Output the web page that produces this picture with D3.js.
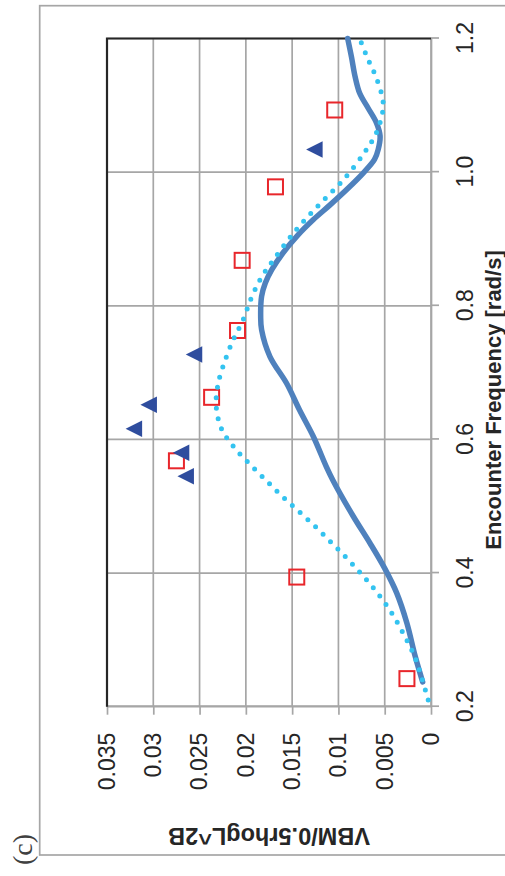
<!DOCTYPE html>
<html>
<head>
<meta charset="utf-8">
<script src="https://cdn.jsdelivr.net/npm/d3@7"></script>
<style>
  html, body { margin: 0; padding: 0; background: #fff; }
  svg { display: block; }
</style>
</head>
<body>
<script>
// Axis ticks and their labels
const freqTicks = [0.2, 0.4, 0.6, 0.8, 1.0, 1.2];
const freqTickLabels = ["0.2", "0.4", "0.6", "0.8", "1.0", "1.2"];
const vbmTicks = [0, 0.005, 0.01, 0.015, 0.02, 0.025, 0.03, 0.035];
const vbmTickLabels = ["0", "0.005", "0.01", "0.015", "0.02", "0.025", "0.03", "0.035"];

// Solid curve
const solidFreq = [0.237, 0.275, 0.325, 0.370, 0.407, 0.445, 0.485, 0.539, 0.559, 0.604, 0.644, 0.684, 0.724, 0.764, 0.784, 0.814, 0.834, 0.854, 0.879, 0.904, 0.929, 0.951, 0.974, 0.999, 1.019, 1.034, 1.054, 1.074, 1.096, 1.118, 1.143, 1.173, 1.200];
const solidVbm  = [0.0009, 0.0017, 0.0026, 0.0037, 0.0050, 0.0066, 0.0084, 0.0106, 0.0113, 0.0127, 0.0142, 0.0156, 0.0174, 0.0183, 0.0184, 0.0183, 0.0179, 0.0172, 0.0160, 0.0145, 0.0127, 0.0109, 0.0091, 0.0073, 0.0061, 0.0057, 0.0055, 0.0059, 0.0068, 0.0077, 0.0082, 0.0086, 0.0090];

// Dotted curve
const dottedFreq = [0.210, 0.243, 0.276, 0.307, 0.337, 0.365, 0.392, 0.418, 0.442, 0.467, 0.490, 0.514, 0.537, 0.562, 0.587, 0.615, 0.649, 0.683, 0.716, 0.748, 0.779, 0.812, 0.843, 0.871, 0.913, 0.951, 0.988, 1.029, 1.059, 1.092, 1.108, 1.141, 1.172, 1.200];
const dottedVbm  = [0.0003, 0.0010, 0.0018, 0.0029, 0.0041, 0.0055, 0.0071, 0.0088, 0.0105, 0.0123, 0.0141, 0.0160, 0.0177, 0.0195, 0.0212, 0.0226, 0.0232, 0.0230, 0.0223, 0.0214, 0.0203, 0.0194, 0.0183, 0.0169, 0.0146, 0.0121, 0.0095, 0.0072, 0.0059, 0.0052, 0.0052, 0.0059, 0.0069, 0.0077];

// Square markers
const squareFreq = [0.242, 0.394, 0.568, 0.663, 0.763, 0.868, 0.978, 1.093];
const squareVbm  = [0.0026, 0.0145, 0.0275, 0.0237, 0.0209, 0.0204, 0.0168, 0.0104];

// Triangle markers
const triFreq = [0.545, 0.580, 0.616, 0.652, 0.727, 1.034];
const triVbm  = [0.0265, 0.0270, 0.0321, 0.0305, 0.0256, 0.0126];

// The chart is laid out landscape (876 x 505) and turned a quarter-turn
// counter-clockwise to fit the portrait page.
const svg = d3.select("body").append("svg")
  .attr("width", 505).attr("height", 876);
const g = svg.append("g").attr("transform", "translate(0,876) rotate(-90)");

const plot = { left: 169.3, right: 837.5, top: 107, bottom: 431 };
const x = d3.scaleLinear().domain([0.2, 1.2]).range([plot.left, plot.right]);
const y = d3.scaleLinear().domain([0, 0.035]).range([plot.bottom, plot.top]);

const gridColor = "#a6a6a6";
const textColor = "#262626";
const labelFont = "'Liberation Sans', Arial, sans-serif";

// Outer chart frame
g.append("rect")
  .attr("x", 21).attr("y", 39.7)
  .attr("width", 849.3).attr("height", 480)
  .attr("fill", "none").attr("stroke", gridColor).attr("stroke-width", 1.7);

// Gridlines
g.append("g").selectAll("line").data(freqTicks).join("line")
  .attr("x1", d => x(d)).attr("x2", d => x(d))
  .attr("y1", plot.top).attr("y2", plot.bottom)
  .attr("stroke", gridColor).attr("stroke-width", 1.7);
g.append("g").selectAll("line").data(vbmTicks).join("line")
  .attr("x1", plot.left).attr("x2", plot.right)
  .attr("y1", d => y(d)).attr("y2", d => y(d))
  .attr("stroke", gridColor).attr("stroke-width", 1.7);

// Axes
function styleAxis(sel) {
  sel.select(".domain").attr("stroke", gridColor).attr("stroke-width", 1.7);
  sel.selectAll(".tick line").attr("stroke", gridColor).attr("stroke-width", 1.7);
  sel.selectAll(".tick text")
    .attr("fill", textColor)
    .style("font-family", labelFont)
    .style("font-size", "23px");
}
g.append("g")
  .attr("transform", `translate(0,${plot.bottom})`)
  .call(d3.axisBottom(x).tickValues(freqTicks)
    .tickFormat((d, i) => freqTickLabels[i])
    .tickSizeInner(8).tickSizeOuter(0).tickPadding(18))
  .call(styleAxis);
g.append("g")
  .attr("transform", `translate(${plot.left},0)`)
  .call(d3.axisLeft(y).tickValues(vbmTicks)
    .tickFormat((d, i) => vbmTickLabels[i])
    .tickSizeInner(8).tickSizeOuter(0).tickPadding(18))
  .call(styleAxis);

// Dark border on the top and right of the plot area
g.append("path")
  .attr("d", `M${plot.left},${plot.top}H${plot.right}V${plot.bottom}`)
  .attr("fill", "none").attr("stroke", "#262626").attr("stroke-width", 2.2);

// Axis titles
g.append("text")
  .attr("x", 476).attr("y", 500.5)
  .attr("text-anchor", "middle")
  .attr("fill", textColor)
  .style("font-family", labelFont).style("font-size", "22px").style("font-weight", "bold")
  .text("Encounter Frequency [rad/s]");
g.append("text")
  .attr("transform", "translate(47.7,269) rotate(-90)")
  .attr("text-anchor", "middle")
  .attr("fill", textColor)
  .style("font-family", labelFont).style("font-size", "23.5px").style("font-weight", "bold")
  .text("VBM/0.5rhogL^2B");

// Panel tag
g.append("text")
  .attr("x", 11).attr("y", 31.5)
  .attr("fill", "#404040")
  .style("font-family", "'Liberation Serif', 'Times New Roman', serif").style("font-size", "28px")
  .text("(c)");

// Square markers
g.append("g").selectAll("rect")
  .data(squareFreq.map((f, i) => [f, squareVbm[i]]))
  .join("rect")
  .attr("x", d => x(d[0]) - 7.5).attr("y", d => y(d[1]) - 7.5)
  .attr("width", 15).attr("height", 15)
  .attr("fill", "none").attr("stroke", "#e8262b").attr("stroke-width", 2);

// Triangle markers (isosceles, as wide as tall)
const isoTriangle = {
  draw(ctx, size) {
    const s = Math.sqrt(size) / 2;
    ctx.moveTo(0, -s);
    ctx.lineTo(s, s);
    ctx.lineTo(-s, s);
    ctx.closePath();
  }
};
g.append("g").selectAll("path")
  .data(triFreq.map((f, i) => [f, triVbm[i]]))
  .join("path")
  .attr("transform", d => `translate(${x(d[0])},${y(d[1])})`)
  .attr("d", d3.symbol().type(isoTriangle).size(16.5 * 16.5))
  .attr("fill", "#2f4d9e");

// Curves
const line = d3.line().x(d => x(d[0])).y(d => y(d[1])).curve(d3.curveCatmullRom);
g.append("path")
  .datum(solidFreq.map((f, i) => [f, solidVbm[i]]))
  .attr("d", line)
  .attr("fill", "none").attr("stroke", "#4f81bd").attr("stroke-width", 5.5)
  .attr("stroke-linecap", "round").attr("stroke-linejoin", "round");
g.append("path")
  .datum(dottedFreq.map((f, i) => [f, dottedVbm[i]]))
  .attr("d", line)
  .attr("fill", "none").attr("stroke", "#33c3f0").attr("stroke-width", 5)
  .attr("stroke-linecap", "round").attr("stroke-dasharray", "0 10.5");
</script>
</body>
</html>
